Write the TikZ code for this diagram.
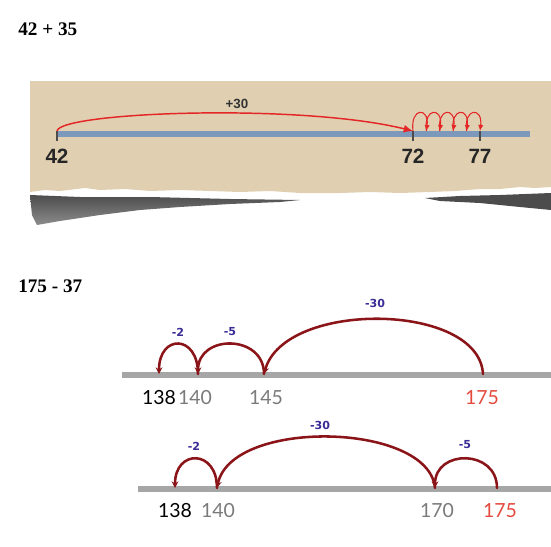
\documentclass[tikz,border=0pt]{standalone}
\usepackage{fontspec}
\setmainfont{Liberation Serif}
\newfontfamily\fontetopo{Liberation Sans}
\newfontfamily\fontereta{Lato}
\newfontfamily\fonterotulo{DejaVu Sans}
\usetikzlibrary{arrows.meta}

\definecolor{bege}{RGB}{224,208,177}
\definecolor{azulreta}{RGB}{124,153,188}
\definecolor{cinzareta}{RGB}{166,166,166}
\definecolor{vinho}{RGB}{138,20,24}
\definecolor{roxo}{RGB}{58,44,150}
\definecolor{vermelho}{RGB}{228,38,38}
\definecolor{salmao}{RGB}{228,74,62}
\definecolor{cinzatexto}{RGB}{122,122,122}

\begin{document}
\begin{tikzpicture}[
    x=0.75pt, y=-0.75pt,
    titulo/.style={anchor=base west, inner sep=0pt, font=\fontsize{14.4}{16}\selectfont\bfseries},
    numtopo/.style={anchor=base, inner sep=0pt, text=black!85, font=\fontetopo\fontsize{15.5}{17}\selectfont\bfseries},
    numero/.style={anchor=base, inner sep=0pt, font=\fontereta\fontsize{14.6}{17}\selectfont},
    rotulo/.style={inner sep=0pt, text=roxo, font=\fonterotulo\fontsize{8.3}{10}\selectfont\bfseries},
    pulo/.style={draw=vermelho, line width=1.1pt, -{Latex[length=7pt, width=6pt]}},
    laco/.style={draw=vermelho, line width=0.8pt, -{Latex[length=4.5pt, width=4pt]}},
    salto/.style={draw=vinho, line width=1.9pt, line cap=round, -{Stealth[length=5pt, width=5pt]}},
    reta/.style={draw=cinzareta, line width=4.1pt},
    marca/.style={draw=black!70, line width=1.1pt}
]
    \useasboundingbox (0,0) rectangle (551,547);

    % titulos
    \node[titulo] (soma) at (18,35) {42 + 35};
    \node[titulo] (subtracao) at (18,292) {175 - 37};

    % papel rasgado
    \fill[bege] (30,81) -- (551,81) -- (551,187) -- (535,188) -- (520,187) -- (500,189) -- (480,189)
        -- (455,191) -- (430,192) -- (400,193) -- (370,192) -- (340,193) -- (300,193) -- (270,191)
        -- (240,192) -- (210,191) -- (180,190) -- (150,191) -- (125,189) -- (100,190) -- (85,188)
        -- (60,191) -- (45,190) -- (30,192) -- cycle;
    \shade[top color=black!70, bottom color=black!45] (30,195) -- (80,197) -- (150,197) -- (230,199)
        -- (300,200) -- (280,202) -- (230,204) -- (180,207) -- (140,210) -- (100,215) -- (60,221)
        -- (37,225) -- (32,215) -- cycle;
    \fill[black!70] (425,198) -- (460,196) -- (500,195) -- (551,193) -- (551,210) -- (520,207)
        -- (480,203) -- (440,201) -- cycle;

    % reta de cima
    \draw[azulreta, line width=3.8pt] (57,134) -- (530,134);
    \coordinate (p42) at (57,131);
    \coordinate (p72) at (413,131);
    \coordinate (q1) at (426.4,131);
    \coordinate (q2) at (439.8,131);
    \coordinate (q3) at (453.2,131);
    \coordinate (q4) at (466.6,131);
    \coordinate (p77) at (480,131);
    \draw[marca] (p42) -- ++(0,10);
    \draw[marca] (p72) -- ++(0,10);
    \draw[marca] (p77) -- ++(0,10);

    \node[numtopo] (n42) at (57,163) {42};
    \node[numtopo] (n72) at (413,163) {72};
    \node[numtopo] (n77) at (480,163) {77};

    \draw[pulo] (p42) .. controls (60,112) and (300,103) .. (p72);
    \node[inner sep=0pt, text=black!80, font=\fontetopo\fontsize{10}{12}\selectfont\bfseries] (mais30) at (237,104) {+30};

    \draw[laco] (p72) .. controls +(-3,-24) and +(3,-24) .. (q1);
    \draw[laco] (q1) .. controls +(-3,-24) and +(3,-24) .. (q2);
    \draw[laco] (q2) .. controls +(-3,-24) and +(3,-24) .. (q3);
    \draw[laco] (q3) .. controls +(-3,-24) and +(3,-24) .. (q4);
    \draw[laco] (q4) .. controls +(-3,-24) and +(3,-24) .. (p77);

    % primeira reta de baixo
    \draw[reta] (122,375) -- (551,375);
    \coordinate (a138) at (159,374);
    \coordinate (a140) at (198,374);
    \coordinate (a145) at (264,374);
    \coordinate (a175) at (483,374);

    \draw[salto] (a140) .. controls +(0,-40) and +(0,-40) .. (a138);
    \draw[salto] (a145) .. controls +(0,-40) and +(0,-40) .. (a140);
    \draw[salto] (a175) .. controls +(-4,-72) and +(20,-74) .. (a145);

    \node[rotulo] (menos2a) at (178,332) {-2};
    \node[rotulo] (menos5a) at (230,332) {-5};
    \node[rotulo] (menos30a) at (375,303) {-30};

    \node[numero, text=black] (r138a) at (159,404) {138};
    \node[numero, text=cinzatexto] (r140a) at (195,404) {140};
    \node[numero, text=cinzatexto] (r145a) at (266,404) {145};
    \node[numero, text=salmao] (r175a) at (482,404) {175};

    % segunda reta de baixo
    \draw[reta] (138,489) -- (551,489);
    \coordinate (b138) at (175,488);
    \coordinate (b140) at (217,488);
    \coordinate (b170) at (435,488);
    \coordinate (b175) at (497,488);

    \draw[salto] (b140) .. controls +(0,-39) and +(0,-39) .. (b138);
    \draw[salto] (b170) .. controls +(-6,-66) and +(14,-70) .. (b140);
    \draw[salto] (b175) .. controls +(0,-39) and +(0,-39) .. (b170);

    \node[rotulo] (menos2b) at (194,446) {-2};
    \node[rotulo] (menos30b) at (320,425) {-30};
    \node[rotulo] (menos5b) at (465,445) {-5};

    \node[numero, text=black] (r138b) at (175,517) {138};
    \node[numero, text=cinzatexto] (r140b) at (218,517) {140};
    \node[numero, text=cinzatexto] (r170b) at (437,517) {170};
    \node[numero, text=salmao] (r175b) at (500,517) {175};
\end{tikzpicture}
\end{document}
